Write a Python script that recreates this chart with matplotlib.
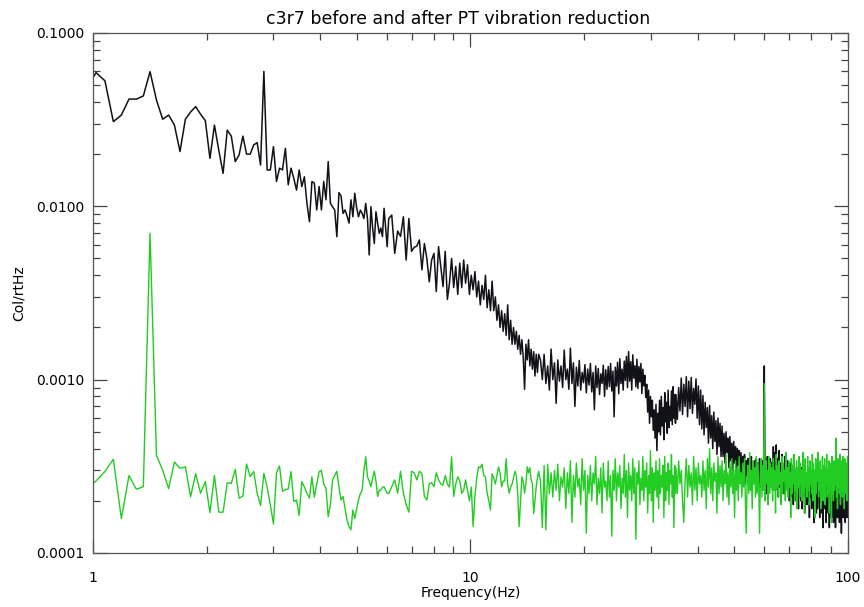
import matplotlib
matplotlib.use('Agg')
import matplotlib.pyplot as plt
import numpy as np
from matplotlib.ticker import FormatStrFormatter, LogLocator, NullFormatter

# spectrum bin grid (Hz)
FREQ0 = 0.962
DF = 0.0568
SCALE = 1e-4   # values below are in units of 1e-4 Col/rtHz

# 0 - 6 Hz, every bin
bins_a = np.arange(0, 90)
before_a = [480, 590, 530, 308, 336, 416, 415, 433, 598, 410,
            318, 336, 294, 207, 318, 350, 376, 340, 312, 189,
            294, 210, 155, 275, 254, 181, 198, 254, 200, 200,
            226, 233, 173, 600, 162, 162, 221, 139, 166, 162,
            216, 133, 166, 145, 124, 162, 130, 148, 104, 81.5,
            139, 136, 95.3, 130, 95.3, 139, 109, 181, 104, 99.5,
            95, 66.8, 120, 115, 91, 95.3, 88, 80, 109, 87,
            119, 98, 87, 95, 91, 85, 104, 85, 52.4, 99.5,
            75, 61, 93, 80, 69.8, 75, 66.8, 97.4, 75, 58.5]
after_a = [2.4, 2.6, 2.95, 3.47, 1.58, 2.8, 2.33, 2.41, 70, 3.66,
           3.0, 2.35, 3.35, 3.08, 3.14, 2.11, 2.87, 2.21, 2.58, 1.71,
           2.8, 1.72, 1.72, 2.54, 2.52, 3.04, 2.07, 2.13, 3.26, 2.76,
           2.95, 2.21, 1.88, 2.88, 2.4, 1.9, 1.47, 2.9, 3.18, 2.27,
           2.32, 2.34, 2.95, 1.98, 2.02, 1.65, 2.58, 2.4, 2.21, 2.07,
           2.75, 2.1, 2.5, 2.94, 3.0, 2.5, 2.36, 1.62, 1.9, 2.64,
           2.8, 2.96, 2.41, 2.02, 2.12, 1.8, 1.55, 1.42, 1.36, 1.77,
           1.58, 1.8, 2.02, 2.2, 2.3, 3.0, 3.59, 2.75, 2.6, 2.41,
           2.7, 2.96, 2.6, 2.12, 2.3, 2.3, 2.4, 2.41, 2.3, 2.21]

# 6 - 15 Hz, every 2nd bin
bins_b = np.arange(90, 251, 2)
before_b = [85, 89, 53.5, 72, 67, 87, 49, 85, 55, 58,
            59, 64, 43, 61, 50, 36.7, 49, 53.5, 32.2, 58.5,
            45, 34.4, 55, 29, 36, 50, 34, 45, 31, 47,
            34, 49, 36, 46, 31, 40, 33, 42, 30, 37,
            27, 35, 29, 40, 26, 33, 25, 37, 25, 30,
            22, 27, 20, 25, 19, 24, 18, 27, 17, 22,
            16, 20, 16, 19, 15, 18, 14, 17, 13.5, 8.8,
            16, 13, 17, 12, 15, 11.5, 14.5, 10.5, 14, 11,
            14]
after_b = [2.2, 2.41, 2.64, 2.21, 2.96, 2.21, 1.9, 1.72, 2.96, 2.9,
           2.64, 2.96, 2.87, 2.12, 2.02, 2.5, 2.55, 2.41, 2.9, 2.64,
           2.5, 2.46, 2.8, 2.5, 2.4, 3.59, 2.12, 2.5, 2.75, 2.6,
           2.21, 2.3, 2.64, 2.3, 2.0, 2.4, 1.42, 2.12, 2.7, 3.14,
           3.1, 3.25, 2.8, 2.75, 2.21, 2.0, 1.77, 2.87, 2.7, 2.5,
           2.8, 3.14, 2.9, 2.41, 2.6, 2.6, 3.5, 2.5, 2.21, 2.4,
           2.5, 2.7, 2.96, 2.8, 2.2, 1.42, 2.0, 2.75, 2.6, 2.21,
           2.5, 3.14, 2.9, 3.1, 2.64, 2.5, 1.69, 2.0, 2.41, 2.7,
           2.96]

# 15 - 35 Hz, every 3rd bin
bins_c = np.arange(253, 599, 3)
before_c = [13, 10, 14, 9.5, 12, 8.7, 15, 10, 12.5, 7.3, 13, 9.8, 12, 9, 14.8, 10,
            11.5, 8.8, 15.2, 9.5, 12.5, 7.0, 11.8, 9.2, 12.9, 8.7, 11, 9.6, 12.2, 8.4, 11.5, 9.3,
            12.4, 8.5, 11, 6.7, 12, 9, 11.6, 8.2, 10.8, 9.5, 12.1, 8.0, 11.4, 8.8, 11.9, 9.1,
            12.4, 8.6, 11.2, 6.1, 11.8, 9.2, 12.6, 8.3, 13.2, 9.5, 11.5, 8.7, 12.8, 9.9, 13.6, 9.0,
            14.5, 9.8, 12.7, 8.7, 13.9, 10.2, 12, 9.1, 13.1, 8.9, 11.9, 9.7, 12.4, 8.3, 11.5, 9.2,
            10.6, 7.9, 9.4, 6.5, 8.7, 5.6, 8.0, 6.1, 7.6, 5.1, 6.7, 4.6, 7.2, 3.9, 6.4, 5.0,
            7.6, 4.8, 8.0, 5.4, 6.9, 4.5, 8.4, 5.7, 7.4, 4.9, 8.7, 5.3, 7.0, 5.8, 8.6, 5.5,
            9.1, 6.0, 8.2, 5.6]
after_c = [2.6, 1.4, 3.2, 1.36, 3.25, 2.2, 2.9, 2.1, 3.0, 2.3, 3.25, 2.0, 2.75, 2.4, 3.1, 1.8,
           2.9, 2.2, 3.4, 1.5, 2.8, 2.1, 3.3, 2.4, 2.7, 1.9, 3.5, 2.3, 3.0, 1.3, 2.8, 2.2,
           3.2, 2.0, 2.9, 2.5, 3.6, 1.9, 2.7, 2.2, 3.1, 1.7, 3.3, 2.4, 2.6, 2.0, 3.4, 2.1,
           2.8, 1.25, 3.0, 2.3, 3.5, 2.0, 2.9, 2.4, 3.2, 1.8, 2.7, 2.2, 3.7, 2.1, 3.0, 1.6,
           3.3, 2.3, 2.8, 2.0, 3.5, 2.2, 3.1, 1.2, 2.9, 2.5, 3.4, 1.9, 2.7, 2.3, 3.6, 2.0,
           3.0, 2.4, 3.3, 1.7, 2.8, 2.2, 3.9, 2.0, 3.1, 1.5, 2.9, 2.3, 3.4, 2.1, 3.0, 1.8,
           3.5, 2.2, 2.8, 2.4, 3.2, 1.6, 3.6, 2.0, 2.9, 2.3, 3.3, 1.9, 3.0, 2.5, 3.7, 2.1,
           2.8, 1.4, 3.2, 2.2]

# 35 - 100 Hz, every 5th bin
bins_d = np.arange(600, 1746, 5)
before_d = [8.2, 5.9, 9.0, 6.6, 10.2, 6.3, 9.4, 7.0, 10.4, 6.1, 9.8, 6.8, 10.3, 6.4, 8.9, 7.2, 10.1, 6.0, 9.2, 5.5,
            8.7, 5.2, 8.1, 4.8, 7.4, 5.3, 6.9, 4.3, 7.1, 4.6, 6.2, 4.0, 6.5, 4.4, 5.8, 3.7, 6.0, 4.1, 5.6, 3.6,
            5.4, 3.6, 4.9, 3.3, 5.0, 3.8, 4.6, 3.1, 4.7, 3.4, 4.3, 3.0, 4.4, 3.3, 4.1, 2.9, 4.0, 3.2, 3.9, 2.8,
            3.8, 2.7, 3.6, 2.9, 3.7, 2.5, 3.4, 2.8, 3.5, 2.6, 3.3, 2.7, 3.6, 2.4, 3.2, 2.9, 3.4, 2.6, 3.5, 2.3,
            3.3, 2.6, 3.5, 2.4, 3.2, 2.8, 3.4, 2.5, 12.0, 2.7, 3.3, 2.2, 3.6, 2.6, 3.1, 2.4, 3.5, 2.7, 3.3, 2.3,
            4.1, 2.5, 3.8, 2.3, 4.2, 2.6, 3.5, 2.1, 3.9, 2.4, 3.3, 2.0, 3.7, 2.6, 3.2, 2.2, 3.6, 2.5, 3.1, 2.3,
            3.4, 2.2, 3.0, 2.0, 3.3, 2.4, 2.9, 2.1, 3.2, 1.9, 3.0, 2.3, 2.8, 2.0, 3.1, 2.2, 2.7, 1.8, 3.0, 2.1,
            2.9, 2.0, 3.1, 1.8, 2.8, 2.2, 3.0, 1.7, 2.7, 2.1, 2.9, 1.9, 2.6, 2.0, 3.0, 1.6, 2.8, 2.1, 2.7, 1.8,
            2.9, 1.9, 2.6, 1.5, 2.8, 2.0, 2.5, 1.7, 2.9, 1.8, 2.6, 2.1, 2.7, 1.6, 2.5, 1.9, 2.8, 1.7, 2.6, 1.4,
            2.7, 1.8, 2.5, 2.0, 2.8, 1.5, 2.6, 1.9, 2.4, 1.7, 2.7, 1.4, 2.5, 1.8, 2.6, 1.6, 2.4, 1.9, 2.7, 1.5,
            2.5, 1.7, 2.6, 1.4, 2.4, 1.8, 2.7, 1.6, 2.5, 1.9, 2.3, 1.5, 2.6, 1.7, 2.4, 1.3, 2.5, 1.8, 2.6, 1.6,
            2.4, 1.7, 2.5, 1.5, 2.3, 1.8, 2.6, 1.6, 2.4, 1.7]
after_d = [3.1, 2.2, 3.4, 2.5, 3.0, 2.0, 1.5, 2.6, 3.5, 2.1, 3.2, 2.4, 2.9, 1.9, 3.6, 2.3, 3.1, 2.0, 3.3, 2.5,
           2.8, 2.1, 3.4, 2.3, 3.0, 1.8, 3.5, 2.4, 4.0, 2.2, 3.1, 2.0, 3.3, 2.6, 2.9, 1.7, 3.6, 2.2, 3.2, 2.4,
           3.4, 2.0, 3.0, 2.5, 3.7, 2.1, 2.9, 1.9, 3.3, 2.4, 3.5, 2.2, 3.0, 1.6, 3.4, 2.3, 3.1, 2.0, 3.6, 2.5,
           2.9, 2.1, 3.3, 2.4, 3.5, 2.0, 1.3, 2.6, 3.2, 2.2, 3.8, 2.3, 3.0, 1.8, 3.4, 2.5, 3.1, 2.1, 3.6, 2.2,
           3.3, 2.4, 1.3, 2.7, 3.5, 2.1, 3.2, 2.3, 9.5, 2.0, 3.4, 2.5, 3.0, 1.9, 3.6, 2.2, 3.3, 2.4, 3.1, 2.0,
           3.5, 2.3, 3.0, 1.7, 3.7, 2.4, 3.2, 2.1, 3.4, 2.5, 2.9, 1.9, 3.6, 2.2, 3.3, 2.6, 3.0, 2.0, 3.8, 2.3,
           3.1, 2.1, 3.4, 2.4, 2.9, 1.6, 3.5, 2.2, 3.2, 2.5, 3.7, 2.0, 3.0, 2.3, 3.4, 1.8, 3.1, 2.4, 3.6, 2.1,
           3.3, 2.5, 3.0, 2.0, 3.8, 2.2, 3.2, 1.7, 3.5, 2.4, 2.9, 2.1, 3.6, 2.3, 3.1, 1.9, 3.4, 2.5, 3.0, 2.2,
           3.7, 2.0, 3.3, 2.4, 3.0, 1.6, 3.5, 2.2, 3.2, 2.6, 3.8, 2.1, 3.1, 2.3, 3.4, 1.8, 3.0, 2.4, 3.6, 2.0,
           3.2, 2.3, 3.5, 1.9, 3.1, 2.5, 3.7, 2.1, 3.0, 2.2, 3.4, 1.7, 3.3, 2.4, 2.9, 1.5, 3.6, 2.2, 3.2, 2.0,
           3.4, 2.3, 3.1, 2.5, 4.6, 2.1, 3.3, 1.8, 3.5, 2.4, 3.0, 2.2, 3.7, 1.9, 3.2, 2.5, 3.4, 2.1, 3.6, 2.3,
           3.1, 1.8, 3.5, 2.4, 3.0, 2.2, 3.3, 2.0, 3.6, 2.3]

freq = FREQ0 + DF * np.concatenate([bins_a, bins_b, bins_c, bins_d])
before = SCALE * np.array(before_a + before_b + before_c + before_d)
after = SCALE * np.array(after_a + after_b + after_c + after_d)

plt.rcParams['font.family'] = 'DejaVu Sans'

fig = plt.figure(figsize=(8.64, 6.07), dpi=100)
ax = fig.add_axes([0.1076, 0.0890, 0.8738, 0.8567])

ax.plot(freq, before, color='#111118', lw=1.1)
ax.plot(freq, after, color='#22cc22', lw=1.0)

ax.set_xscale('log')
ax.set_yscale('log')
ax.set_xlim(1, 100)
ax.set_ylim(1e-4, 1e-1)

ax.set_xticks([1, 10, 100], ['1', '10', '100'])
ax.xaxis.set_minor_locator(LogLocator(base=10, subs=np.arange(2, 10)))
ax.xaxis.set_minor_formatter(NullFormatter())
ax.set_yticks([1e-4, 1e-3, 1e-2, 1e-1])
ax.yaxis.set_major_formatter(FormatStrFormatter('%.4f'))
ax.yaxis.set_minor_locator(LogLocator(base=10, subs=np.arange(2, 10)))
ax.yaxis.set_minor_formatter(NullFormatter())

ax.tick_params(which='both', direction='in', top=True, right=True,
               color='#444444', width=0.9, labelsize=10)
ax.tick_params(which='major', length=10)
ax.tick_params(which='minor', length=5)
ax.tick_params(axis='x', which='major', pad=13)
ax.tick_params(axis='y', which='major', pad=6)
for sp in ax.spines.values():
    sp.set_color('#555555')
    sp.set_linewidth(0.9)

ax.set_xlabel('Frequency(Hz)', fontsize=10, labelpad=1)
ax.set_ylabel('Col/rtHz', fontsize=10, labelpad=8)
fig.text(0.53, 0.968, 'c3r7 before and after PT vibration reduction',
         ha='center', va='center', fontsize=12.5)

fig.savefig('out.png', dpi=100)
